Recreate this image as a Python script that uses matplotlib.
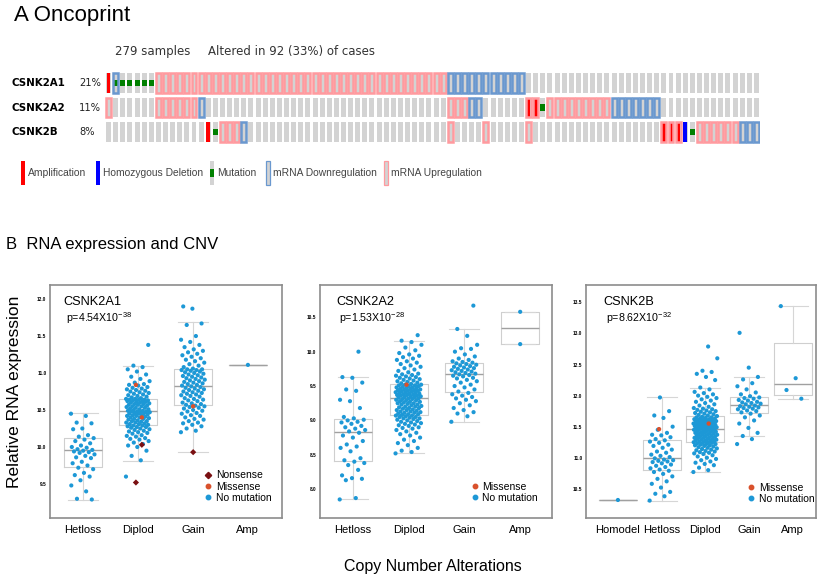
import numpy as np
import matplotlib
matplotlib.use("Agg")
import matplotlib.pyplot as plt
from matplotlib.patches import Rectangle
from matplotlib.lines import Line2D

plt.rcParams['font.family'] = ['Liberation Sans', 'DejaVu Sans']
plt.rcParams['mathtext.fontset'] = 'custom'
plt.rcParams['mathtext.rm'] = 'Liberation Sans'
plt.rcParams['mathtext.default'] = 'regular'

# ---------------- A: oncoprint data (92 altered samples) ----------------
genes = ['CSNK2A1', 'CSNK2A2', 'CSNK2B']
gene_pct = ['21%', '11%', '8%']
# run-length tracks: . none, U mRNA up, D mRNA down, A amp, a amp+up,
# H homdel, M mutation, m mutation+down
track_a1 = [('A', 1), ('m', 1), ('M', 5), ('U', 41), ('D', 11), ('.', 33)]
track_a2 = [('U', 1), ('.', 6), ('U', 6), ('D', 1), ('.', 34), ('U', 3), ('D', 2),
            ('.', 6), ('a', 2), ('M', 1), ('U', 9), ('D', 7), ('.', 14)]
track_b = [('.', 14), ('A', 1), ('M', 1), ('U', 3), ('D', 1), ('.', 28), ('U', 1),
           ('.', 4), ('U', 1), ('.', 5), ('U', 1), ('.', 18), ('a', 3), ('H', 1),
           ('M', 1), ('U', 6), ('D', 3)]
tracks = [track_a1, track_a2, track_b]
legend_items = ['Amplification', 'Homozygous Deletion', 'Mutation',
                'mRNA Downregulation', 'mRNA Upregulation']

# ---------------- B: RNA expression vs CNV ----------------
# CSNK2A1
a1_cats = ['Hetloss', 'Diplod', 'Gain', 'Amp']
a1_med = [9.955, 10.48, 10.83, 11.11]
a1_q1 = [9.734, 10.297, 10.568, 11.11]
a1_q3 = [10.125, 10.644, 11.05, 11.11]
a1_lo = [9.284, 9.815, 9.936, 11.11]
a1_hi = [10.455, 11.10, 11.685, 11.11]
a1_hetloss = [10.45, 10.42, 10.33, 10.32, 10.25, 10.24, 10.16, 10.14, 10.12, 10.10,
              10.08, 10.05, 10.02, 10.00, 9.99, 9.97, 9.96, 9.95, 9.94, 9.93, 9.92,
              9.90, 9.88, 9.86, 9.85, 9.80, 9.78, 9.75, 9.72, 9.70, 9.65, 9.62, 9.60,
              9.55, 9.48, 9.40, 9.30, 9.29]
a1_diplod = [9.60, 9.82, 9.88, 9.95, 10.00, 10.02, 10.04, 10.06, 10.08, 10.10, 10.11,
             10.12, 10.14, 10.15, 10.16, 10.18, 10.19, 10.20, 10.21, 10.22, 10.23, 10.24,
             10.25, 10.26, 10.27, 10.27, 10.28, 10.29, 10.29, 10.30,
             10.31, 10.31, 10.32, 10.33, 10.33, 10.34, 10.35, 10.35, 10.36, 10.37, 10.38,
             10.38, 10.39, 10.40, 10.40, 10.41, 10.42, 10.42, 10.43, 10.43, 10.44, 10.45,
             10.45, 10.46, 10.46, 10.47, 10.47, 10.48, 10.48, 10.48,
             10.49, 10.49, 10.50, 10.51, 10.51, 10.52, 10.53, 10.53, 10.54, 10.55, 10.55,
             10.56, 10.57, 10.57, 10.58, 10.58, 10.59, 10.60, 10.60, 10.61, 10.61, 10.62,
             10.62, 10.63, 10.63, 10.64, 10.64, 10.64, 10.65, 10.65,
             10.66, 10.67, 10.68, 10.69, 10.70, 10.71, 10.72, 10.73, 10.74, 10.75, 10.76,
             10.77, 10.78, 10.79, 10.80, 10.81, 10.83, 10.84, 10.85, 10.87, 10.89, 10.92,
             10.95, 10.98, 11.02, 11.05, 11.08, 11.10, 11.38]
a1_gain = [10.20, 10.22, 10.25, 10.28, 10.30, 10.32, 10.33, 10.35, 10.37, 10.38, 10.40,
           10.42, 10.43, 10.45, 10.46, 10.48, 10.49, 10.50, 10.52, 10.53, 10.54, 10.55,
           10.56, 10.57,
           10.58, 10.59, 10.60, 10.62, 10.63, 10.64, 10.65, 10.66, 10.68, 10.69, 10.70,
           10.71, 10.72, 10.73, 10.74, 10.75, 10.76, 10.77, 10.78, 10.79, 10.80, 10.81,
           10.82, 10.83,
           10.84, 10.85, 10.86, 10.87, 10.88, 10.89, 10.90, 10.91, 10.92, 10.93, 10.94,
           10.95, 10.96, 10.97, 10.98, 10.99, 11.00, 11.01, 11.02, 11.03, 11.04, 11.04,
           11.05, 11.05,
           11.06, 11.08, 11.10, 11.12, 11.14, 11.16, 11.18, 11.20, 11.22, 11.24, 11.26,
           11.28, 11.30, 11.32, 11.35, 11.38, 11.42, 11.45, 11.50, 11.65, 11.67, 11.87,
           11.90]
a1_amp = [11.11]
a1_nonsense_grp = [2, 2, 3]
a1_nonsense_val = [9.52, 10.03, 9.93]
a1_missense_grp = [2, 2, 3]
a1_missense_val = [10.84, 10.40, 10.55]

# CSNK2A2
a2_cats = ['Hetloss', 'Diplod', 'Gain', 'Amp']
a2_med = [8.826, 9.33, 9.68, 10.34]
a2_q1 = [8.413, 9.078, 9.408, 10.11]
a2_q3 = [9.015, 9.525, 9.835, 10.58]
a2_lo = [7.85, 8.52, 8.976, 10.11]
a2_hi = [9.627, 10.155, 10.334, 10.58]
a2_hetloss = [7.85, 7.87, 8.13, 8.15, 8.16, 8.20, 8.28, 8.35, 8.38, 8.40,
              8.42, 8.45, 8.55, 8.60, 8.62, 8.65, 8.70, 8.75, 8.78, 8.82,
              8.84, 8.86, 8.88, 8.90, 8.92, 8.95, 8.97, 8.98, 9.00, 9.01,
              9.03, 9.05, 9.18, 9.28, 9.30, 9.43, 9.45, 9.55, 9.62, 9.63, 10.00]
a2_diplod = [8.52, 8.54, 8.56, 8.60, 8.64, 8.67, 8.70, 8.72, 8.75, 8.78, 8.80, 8.82,
             8.84, 8.86, 8.88, 8.89, 8.90, 8.92, 8.93, 8.94, 8.95, 8.96, 8.97, 8.98,
             8.99, 9.00, 9.01, 9.02, 9.03, 9.03, 9.04, 9.05, 9.05, 9.06, 9.07, 9.07, 9.08,
             9.09, 9.09, 9.10, 9.11, 9.11, 9.12, 9.13, 9.13, 9.14, 9.15, 9.15, 9.16,
             9.17, 9.18, 9.18, 9.19, 9.20, 9.20, 9.21, 9.22, 9.23, 9.23, 9.24, 9.25,
             9.25, 9.26, 9.27, 9.27, 9.28, 9.29, 9.29, 9.30, 9.31, 9.31, 9.32, 9.32, 9.33,
             9.34, 9.34, 9.35, 9.35, 9.36, 9.36, 9.37, 9.37, 9.38, 9.38, 9.39, 9.39,
             9.40, 9.40, 9.41, 9.41, 9.42, 9.42, 9.43, 9.43, 9.44, 9.44, 9.45, 9.45,
             9.46, 9.46, 9.47, 9.47, 9.48, 9.48, 9.49, 9.50, 9.50, 9.51, 9.51, 9.52, 9.52,
             9.53, 9.54, 9.55, 9.56, 9.57, 9.58, 9.59, 9.60, 9.61, 9.62, 9.63, 9.64,
             9.65, 9.66, 9.67, 9.68, 9.70, 9.72, 9.74, 9.76, 9.78, 9.80, 9.82, 9.84,
             9.86, 9.88, 9.90, 9.92, 9.94, 9.96, 9.98, 10.02, 10.06, 10.10, 10.14, 10.16,
             10.24]
a2_gain = [8.98, 9.06, 9.10, 9.12, 9.15, 9.18, 9.22, 9.25, 9.28, 9.30, 9.32, 9.34, 9.36,
           9.38, 9.40,
           9.42, 9.45, 9.48, 9.50, 9.52, 9.55, 9.57, 9.59, 9.61, 9.62, 9.64, 9.65, 9.66,
           9.67, 9.68,
           9.69, 9.70, 9.71, 9.72, 9.73, 9.74, 9.75, 9.76, 9.77, 9.78, 9.79, 9.80, 9.81,
           9.82, 9.83,
           9.84, 9.85, 9.86, 9.88, 9.90, 9.93, 9.96, 10.00, 10.04, 10.05, 10.10, 10.23,
           10.33, 10.67]
a2_amp = [10.58, 10.11]
a2_missense_grp = [2]
a2_missense_val = [9.52]

# CSNK2B
b_cats = ['Homodel', 'Hetloss', 'Diplod', 'Gain', 'Amp']
b_med = [10.32, 10.99, 11.47, 11.85, 12.18]
b_q1 = [10.32, 10.80, 11.26, 11.72, 12.01]
b_q3 = [10.32, 11.29, 11.67, 11.98, 12.85]
b_lo = [10.32, 10.31, 10.77, 11.35, 11.95]
b_hi = [10.32, 11.97, 12.13, 12.30, 13.44]
b_homodel = [10.32]
b_hetloss = [10.31, 10.38, 10.42, 10.45, 10.52, 10.58, 10.62, 10.66, 10.70, 10.74, 10.77,
             10.79,
             10.81, 10.83, 10.85, 10.87, 10.89, 10.91, 10.93, 10.94, 10.95, 10.96, 10.97,
             10.99,
             11.01, 11.03, 11.05, 11.08, 11.10, 11.13, 11.16, 11.19, 11.21, 11.24, 11.26,
             11.28,
             11.30, 11.33, 11.36, 11.37, 11.40, 11.45, 11.50, 11.64, 11.68, 11.75, 11.97]
b_diplod = [10.77, 10.80, 10.84, 10.88, 10.90, 10.92, 10.94, 10.96, 10.98, 11.00, 11.02,
            11.04, 11.06, 11.07, 11.08, 11.09, 11.10, 11.11, 11.12, 11.13, 11.14, 11.15,
            11.16, 11.17, 11.18, 11.19, 11.20, 11.20, 11.21, 11.22, 11.22, 11.23, 11.24,
            11.24, 11.25, 11.25, 11.26,
            11.27, 11.27, 11.28, 11.28, 11.29, 11.29, 11.30, 11.31, 11.31, 11.32, 11.32,
            11.33, 11.34, 11.34, 11.35, 11.35, 11.36, 11.37, 11.37, 11.38, 11.38, 11.39,
            11.40, 11.40, 11.41, 11.41, 11.42, 11.43, 11.43, 11.44, 11.44, 11.45, 11.45,
            11.46, 11.46, 11.47, 11.47,
            11.48, 11.48, 11.49, 11.49, 11.50, 11.50, 11.51, 11.51, 11.52, 11.52, 11.53,
            11.53, 11.54, 11.54, 11.55, 11.55, 11.56, 11.56, 11.57, 11.57, 11.58, 11.58,
            11.59, 11.59, 11.60, 11.60, 11.61, 11.61, 11.62, 11.62, 11.63, 11.63, 11.64,
            11.65, 11.65, 11.66, 11.67,
            11.68, 11.69, 11.70, 11.71, 11.72, 11.73, 11.74, 11.75, 11.76, 11.77, 11.78,
            11.79, 11.80, 11.82, 11.84, 11.86, 11.88, 11.90, 11.92, 11.94, 11.96, 11.98,
            12.00, 12.02, 12.04, 12.06, 12.10, 12.13, 12.25, 12.30, 12.35, 12.38, 12.40,
            12.60, 12.79]
b_gain = [11.22, 11.30, 11.35, 11.40, 11.48, 11.55, 11.60, 11.65, 11.68, 11.71,
          11.73, 11.75, 11.76, 11.78, 11.79, 11.80, 11.81, 11.82, 11.83, 11.84,
          11.86, 11.87, 11.88, 11.89, 11.90, 11.92, 11.93, 11.95, 11.96, 11.97,
          11.99, 12.02, 12.05, 12.10, 12.15, 12.20, 12.26, 12.30, 12.45, 13.01]
b_amp = [13.44, 12.28, 12.09, 11.95]
b_missense_grp = [2, 3]
b_missense_val = [11.46, 11.55]

# ---------------- styling ----------------
GRAY = '#d3d3d3'
PINK = '#ff9a9f'
BLUE_OUT = '#6a98cf'
RED = '#ff0000'
DEL_BLUE = '#0000ff'
GREEN = '#008000'
DOT = '#1d98d6'
MISS = '#d9512c'
NONS = '#7a1012'
TXT = '#444444'

W, H = 824, 580
fig = plt.figure(figsize=(W / 100, H / 100), dpi=100)
ov = fig.add_axes([0, 0, 1, 1])
ov.set_xlim(0, W)
ov.set_ylim(H, 0)
ov.axis('off')


def px_axes(x0, y0, x1, y1):
    return fig.add_axes([x0 / W, 1 - y1 / H, (x1 - x0) / W, (y1 - y0) / H])


def fy(y):
    return 1 - y / H


# titles
fig.text(14 / W, fy(15), 'A Oncoprint', fontsize=16, va='center', ha='left')
fig.text(6 / W, fy(244), 'B  RNA expression and CNV', fontsize=12,
         family=['Liberation Sans Narrow', 'Liberation Sans'], va='center', ha='left')

# ---------------- oncoprint ----------------
onc = px_axes(105, 71, 760, 144)
onc.set_xlim(-0.5, 91.5)
onc.set_ylim(2.5, -0.5)
onc.axis('off')
cw, ch = 0.7, 0.82

for r, tr in enumerate(tracks):
    codes = ''.join(c * n for c, n in tr)
    for i, c in enumerate(codes):
        x0, y0 = i - cw / 2, r - ch / 2
        onc.add_patch(Rectangle((x0, y0), cw, ch, fc=GRAY, ec='none'))
        if c in 'Aa':
            onc.add_patch(Rectangle((x0 + 0.1, y0), cw - 0.2, ch, fc=RED, ec='none'))
        if c == 'H':
            onc.add_patch(Rectangle((x0 + 0.1, y0), cw - 0.2, ch, fc=DEL_BLUE, ec='none'))
        if c in 'Mm':
            onc.add_patch(Rectangle((x0, r - ch / 6), cw, ch / 3, fc=GREEN, ec='none'))
        if c in 'Ua':
            onc.add_patch(Rectangle((x0, y0), cw, ch, fc='none', ec=PINK, lw=1.8))
        if c in 'Dm':
            onc.add_patch(Rectangle((x0, y0), cw, ch, fc='none', ec=BLUE_OUT, lw=1.8))
    onc.annotate(genes[r], xy=(12, r), xycoords=('figure pixels', 'data'),
                 fontsize=7.4, fontweight='bold', family='DejaVu Sans',
                 va='center', ha='left', annotation_clip=False)
    onc.annotate(gene_pct[r], xy=(79, r), xycoords=('figure pixels', 'data'),
                 fontsize=7.1, family='DejaVu Sans', color='#222222',
                 va='center', ha='left', annotation_clip=False)

fig.text(115 / W, fy(52), '279 samples', fontsize=8.5, family='DejaVu Sans',
         color='#333333', va='center')
fig.text(208 / W, fy(52), 'Altered in 92 (33%) of cases', fontsize=8.5,
         family='DejaVu Sans', color='#333333', va='center')

# oncoprint legend
leg_x = [21, 96, 210, 266, 384]
for k, (lx, lab) in enumerate(zip(leg_x, legend_items)):
    y0, hh = 161, 24
    if k == 0:
        ov.add_patch(Rectangle((lx, y0), 4, hh, fc=RED, ec='none'))
    elif k == 1:
        ov.add_patch(Rectangle((lx, y0), 4, hh, fc=DEL_BLUE, ec='none'))
    elif k == 2:
        ov.add_patch(Rectangle((lx, y0), 4, hh, fc=GRAY, ec='none'))
        ov.add_patch(Rectangle((lx, y0 + hh / 3), 4, hh / 3, fc=GREEN, ec='none'))
    elif k == 3:
        ov.add_patch(Rectangle((lx, y0), 4, hh, fc=GRAY, ec=BLUE_OUT, lw=0.9))
    else:
        ov.add_patch(Rectangle((lx, y0), 4, hh, fc=GRAY, ec=PINK, lw=0.9))
    ov.text(lx + 7, y0 + hh / 2, lab, fontsize=7.4, color=TXT,
            va='center', ha='left')


# ---------------- box panels ----------------
def jitter(n, half):
    k = np.arange(n)
    return ((k * 0.6180339887) % 1.0 - 0.5) * 2 * half


def panel(x0, x1, xlim, ylim, yticks, cats, med, q1, q3, lo, hi, groups,
          muts, gene, pval, lab_xy, leg_anchor, jit_px):
    ax = px_axes(x0, 285, x1, 518)
    unit = (x1 - x0) / (xlim[1] - xlim[0])
    pos = np.arange(1, len(cats) + 1)
    stats = [dict(med=m, q1=a, q3=b, whislo=l, whishi=h, fliers=[])
             for m, a, b, l, h in zip(med, q1, q3, lo, hi)]
    ax.bxp(stats, positions=pos, widths=38 / unit, capwidths=30 / unit,
           showfliers=False,
           boxprops=dict(color='#cfcfcf', lw=0.8),
           medianprops=dict(color='#a0a0a0', lw=1.0),
           whiskerprops=dict(color='#d6d6d6', lw=0.8),
           capprops=dict(color='#d6d6d6', lw=0.8))
    for p, vals in zip(pos, groups):
        v = np.asarray(vals)
        xs = p + jitter(len(v), jit_px / unit) if len(v) > 2 else p + np.zeros(len(v))
        ax.scatter(xs, v, s=9, color=DOT, edgecolors='none', zorder=3)
    handles = []
    for name, grp, val, col, mk in muts:
        xs = np.asarray(grp) + jitter(len(grp), 6 / unit) * 0.8 + 0.05
        ax.scatter(xs, val, s=10, color=col, marker=mk, edgecolors='none', zorder=4)
        handles.append(Line2D([], [], ls='none', marker=mk, color=col, markersize=3.2,
                              label=name))
    handles.append(Line2D([], [], ls='none', marker='o', color=DOT, markersize=3.2,
                          label='No mutation'))
    ax.legend(handles=handles, loc='lower right', bbox_to_anchor=leg_anchor,
              frameon=False, fontsize=7.5, handlelength=0.6, handletextpad=0.45,
              labelspacing=0.12, borderpad=0, borderaxespad=0)
    ax.set_xlim(*xlim)
    ax.set_ylim(*ylim)
    ax.set_xticks(pos)
    ax.set_xticklabels(cats, fontsize=8)
    ax.set_yticks(yticks)
    ax.set_yticklabels(['%.1f' % t for t in yticks], fontsize=3.4, fontweight='bold')
    ax.tick_params(axis='x', length=0, pad=5)
    ax.tick_params(axis='y', length=0, pad=2.5)
    for s in ax.spines.values():
        s.set_color('#8c8c8c')
        s.set_linewidth(1.2)
    ax.text(lab_xy[0], lab_xy[1], gene, transform=ax.transAxes, fontsize=9.2,
            va='center', ha='left')
    ax.text(lab_xy[0] + 0.013, lab_xy[1] - 0.068, pval, transform=ax.transAxes,
            fontsize=7.7, va='center', ha='left')
    return ax


panel(50, 282, (0.4, 4.62), (9.04, 12.19), [9.5, 10.0, 10.5, 11.0, 11.5, 12.0],
      a1_cats, a1_med, a1_q1, a1_q3, a1_lo, a1_hi,
      [a1_hetloss, a1_diplod, a1_gain, a1_amp],
      [('Nonsense', a1_nonsense_grp, a1_nonsense_val, NONS, 'D'),
       ('Missense', a1_missense_grp, a1_missense_val, MISS, 'o')],
      'CSNK2A1', r'p=4.54X10$^{-38}$', (0.056, 0.927), (0.955, 0.065), 12)

panel(320, 552, (0.414, 4.57), (7.58, 10.97), [8.0, 8.5, 9.0, 9.5, 10.0, 10.5],
      a2_cats, a2_med, a2_q1, a2_q3, a2_lo, a2_hi,
      [a2_hetloss, a2_diplod, a2_gain, a2_amp],
      [('Missense', a2_missense_grp, a2_missense_val, MISS, 'o')],
      'CSNK2A2', r'p=1.53X10$^{-28}$', (0.069, 0.925), (0.94, 0.065), 13)

panel(586, 816, (0.27, 5.53), (10.03, 13.78), [10.5, 11.0, 11.5, 12.0, 12.5, 13.0, 13.5],
      b_cats, b_med, b_q1, b_q3, b_lo, b_hi,
      [b_homodel, b_hetloss, b_diplod, b_gain, b_amp],
      [('Missense', b_missense_grp, b_missense_val, MISS, 'o')],
      'CSNK2B', r'p=8.62X10$^{-32}$', (0.074, 0.927), (0.995, 0.06), 12)

fig.text(15 / W, fy(392), 'Relative RNA expression', rotation=90, fontsize=12.5,
         va='center', ha='center')
fig.text(433 / W, fy(566), 'Copy Number Alterations', fontsize=11.5,
         va='center', ha='center')

fig.savefig('out.png', dpi=100)
